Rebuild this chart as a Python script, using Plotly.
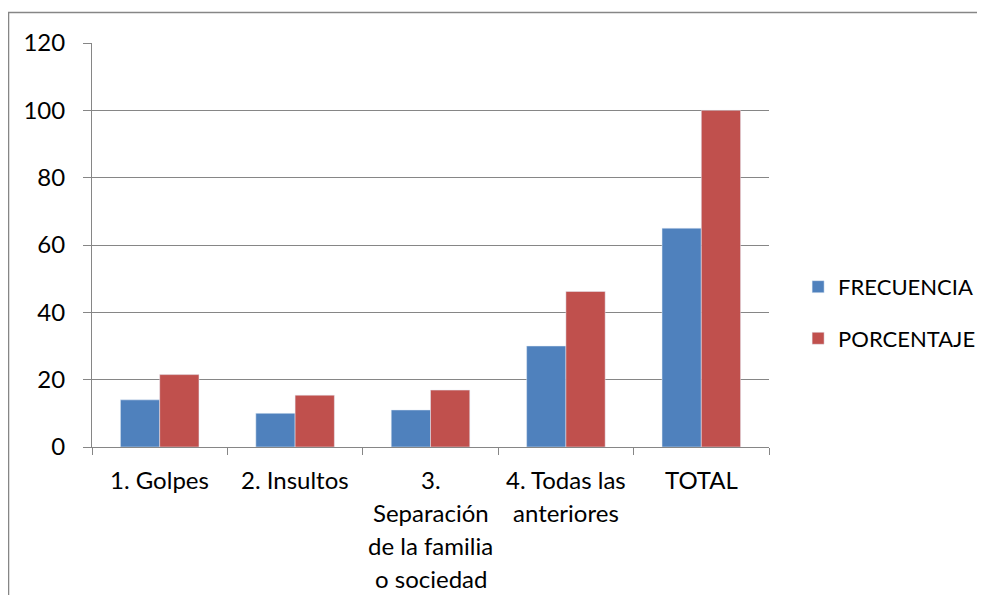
import plotly.graph_objects as go

# data
categories = ["1. Golpes", "2. Insultos", "3.<br>Separación<br>de la familia<br>o sociedad",
              "4. Todas las<br>anteriores", "TOTAL"]
frecuencia = [14, 10, 11, 30, 65]
porcentaje = [21.5, 15.4, 16.9, 46.2, 100]
y_ticks = [0, 20, 40, 60, 80, 100, 120]

BLUE = "#4F81BD"
RED = "#C0504D"
GRID = "#868686"
FONT = "Lato"

fig = go.Figure()
fig.add_trace(go.Bar(x=categories, y=frecuencia, name="FRECUENCIA",
                     marker=dict(color=BLUE), legendgroup="f"))
fig.add_trace(go.Bar(x=categories, y=porcentaje, name="PORCENTAJE",
                     marker=dict(color=RED), legendgroup="p"))

# x labels as annotations so the line spacing matches the original
for cat in categories:
    for i, line in enumerate(cat.split("<br>")):
        fig.add_annotation(x=cat, y=0, xref="x", yref="y", text=line,
                           showarrow=False, yanchor="top",
                           yshift=-16 - 33 * i,
                           font=dict(family=FONT, size=24, color="black"))

# outer chart frame (runs past the right and bottom edges)
fig.add_shape(type="rect", xref="paper", yref="paper",
              x0=-0.1233, y0=-0.6, x1=1.5, y1=1.0755,
              line=dict(color=GRID, width=1.5), layer="below")

# page body has an 8px margin, so the figure is sized to fit inside it
fig.update_layout(
    width=969, height=587,
    margin=dict(l=84, r=208, t=35, b=148, autoexpand=False),
    paper_bgcolor="white", plot_bgcolor="white",
    barmode="group", bargap=0.42, bargroupgap=0,
    font=dict(family=FONT, size=24, color="black"),
    showlegend=True,
    legend=dict(x=1.043, y=0.332, xanchor="left", yanchor="middle",
                tracegroupgap=20, font=dict(size=22), itemwidth=30),
)
fig.update_xaxes(type="category", showticklabels=False, showline=True,
                 linecolor=GRID, linewidth=1, ticks="outside", ticklen=7,
                 tickcolor=GRID, tickson="boundaries", showgrid=False)
fig.update_yaxes(range=[0, 120], tickvals=y_ticks, showgrid=True, gridcolor=GRID,
                 gridwidth=1, showline=True, linecolor=GRID, linewidth=1,
                 ticks="outside", ticklen=8, tickcolor=GRID,
                 ticklabelstandoff=13, zeroline=False)

fig.write_html("out.html")
